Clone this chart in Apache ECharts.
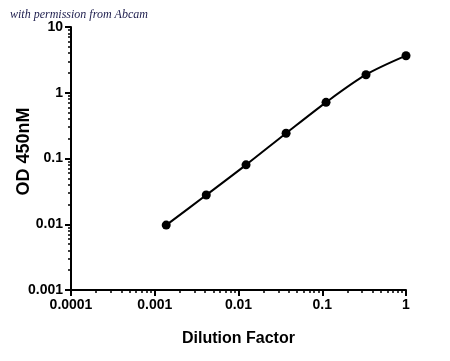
<!DOCTYPE html>
<html><head><meta charset="utf-8">
<script src="https://cdn.jsdelivr.net/npm/echarts@6/dist/echarts.min.js"></script>
<style>html,body{margin:0;padding:0;background:#fff}#c{width:450px;height:361px}</style>
</head><body><div id="c"></div>
<script>
var dilution = [0.00137, 0.00412, 0.0123, 0.037, 0.111, 0.333, 1];
var od450 = [0.0097, 0.0278, 0.080, 0.242, 0.715, 1.88, 3.66];
var xTickLabels = ['0.0001', '0.001', '0.01', '0.1', '1'];
var yTickLabels = ['0.001', '0.01', '0.1', '1', '10'];
var xMinor = [];
var yMinor = [];
[0.0001, 0.001, 0.01, 0.1].forEach(function (d) { for (var k = 2; k <= 9; k++) xMinor.push(d * k); });
[0.001, 0.01, 0.1, 1].forEach(function (d) { for (var k = 2; k <= 9; k++) yMinor.push(d * k); });

function lbl(arr, base) {
  return function (v) { var i = Math.round(Math.log10(v) - base); return arr[i] !== undefined ? arr[i] : ''; };
}
var font = 'Liberation Sans, Arial, sans-serif';
var chart = echarts.init(document.getElementById('c'));
var grid = { left: 71, right: 44, top: 27, bottom: 71, containLabel: false, outerBoundsMode: 'none' };
var lineStyle = { color: '#000', width: 2 };
chart.setOption({
  animation: false,
  backgroundColor: '#fff',
  graphic: [{
    type: 'text', left: 10, top: 9,
    style: { text: 'with permission from Abcam', fill: '#1c1c4c', font: 'italic 12px "Liberation Serif", serif' }
  }],
  grid: grid,
  xAxis: [{
    type: 'log', logBase: 10, min: 0.0001, max: 1,
    name: 'Dilution Factor', nameLocation: 'middle', nameGap: 41, nameMoveOverlap: false,
    nameTextStyle: { fontFamily: font, fontWeight: 'bold', fontSize: 16, color: '#000' },
    axisLine: { lineStyle: lineStyle },
    axisTick: { inside: false, length: 6, lineStyle: lineStyle },
    axisLabel: { formatter: lbl(xTickLabels, -4), fontFamily: font, fontWeight: 'bold', fontSize: 14, color: '#000', margin: 8 },
    splitLine: { show: false }
  }, {
    type: 'log', logBase: 10, min: 0.0001, max: 1, position: 'bottom',
    axisLine: { show: false },
    axisTick: { show: true, inside: false, length: 3, customValues: xMinor, lineStyle: { color: '#000', width: 1.5 } },
    axisLabel: { show: false },
    splitLine: { show: false }
  }],
  yAxis: [{
    type: 'log', logBase: 10, min: 0.001, max: 10,
    name: 'OD 450nM', nameLocation: 'middle', nameGap: 38, nameMoveOverlap: false,
    nameTextStyle: { fontFamily: font, fontWeight: 'bold', fontSize: 18, color: '#000', padding: [0, 0, 0, 14] },
    axisLine: { lineStyle: lineStyle },
    axisTick: { inside: false, length: 6, lineStyle: lineStyle },
    axisLabel: { formatter: lbl(yTickLabels, -3), fontFamily: font, fontWeight: 'bold', fontSize: 14, color: '#000', margin: 8 },
    splitLine: { show: false }
  }, {
    type: 'log', logBase: 10, min: 0.001, max: 10, position: 'left',
    axisLine: { show: false },
    axisTick: { show: true, inside: false, length: 3, customValues: yMinor, lineStyle: { color: '#000', width: 1.5 } },
    axisLabel: { show: false },
    splitLine: { show: false }
  }],
  series: [{
    type: 'line',
    data: dilution.map(function (x, i) { return [x, od450[i]]; }),
    smooth: 0.3,
    symbol: 'circle', symbolSize: 9,
    itemStyle: { color: '#000' },
    lineStyle: { color: '#000', width: 2 }
  }]
});
</script></body></html>
